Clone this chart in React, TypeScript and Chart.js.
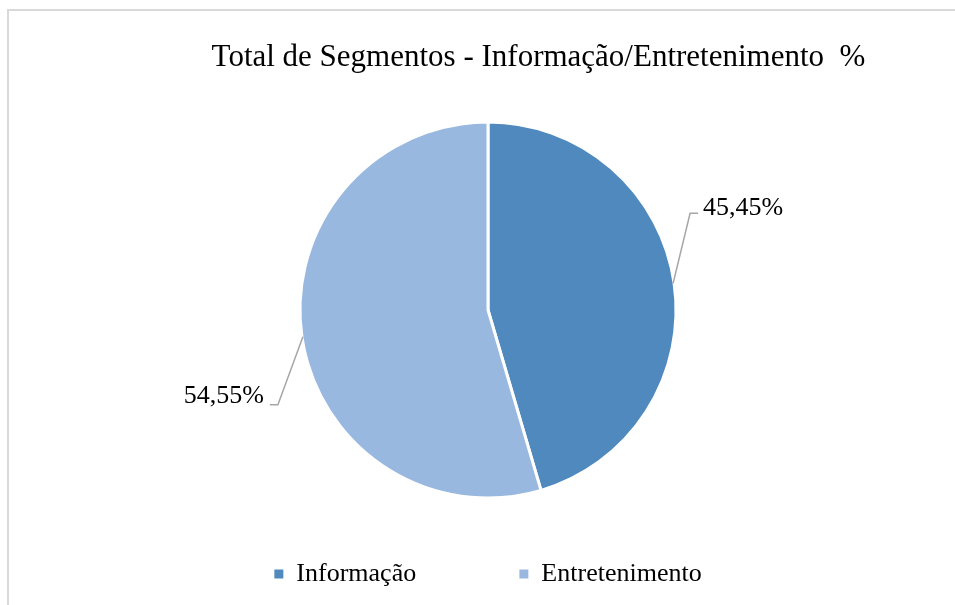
import React, { useEffect, useRef } from "react";
import { Chart, registerables } from "chart.js";

Chart.register(...registerables);

const TITLE = "Total de Segmentos - Informação/Entretenimento  %";
const categories = ["Informação", "Entretenimento"];
const values = [45.45, 54.55];
const valueLabels = ["45,45%", "54,55%"];
const colors = ["#4f89bd", "#98b8df"];

const SERIF = "'Liberation Serif', 'Times New Roman', serif";

const titlePlugin = {
  id: "customTitle",
  afterDraw(chart: any) {
    const ctx = chart.ctx;
    ctx.save();
    ctx.font = `31px ${SERIF}`;
    ctx.fillStyle = "#000";
    ctx.textAlign = "center";
    ctx.textBaseline = "middle";
    ctx.fillText(TITLE, chart.width / 2 + 61, 58);
    ctx.restore();
  },
};

const leaderPlugin = {
  id: "leaderLabels",
  afterDatasetsDraw(chart: any) {
    const ctx = chart.ctx;
    const meta = chart.getDatasetMeta(0);
    const offs = [
      { dx: 17, dy: -70, tail: 8 },
      { dx: -25, dy: 68, tail: -8 },
    ];
    meta.data.forEach((arc: any, i: number) => {
      const { x, y, startAngle, endAngle, outerRadius } = arc.getProps(
        ["x", "y", "startAngle", "endAngle", "outerRadius"],
        true
      );
      const mid = (startAngle + endAngle) / 2;
      const ex = x + Math.cos(mid) * (outerRadius - 1);
      const ey = y + Math.sin(mid) * (outerRadius - 1);
      const o = offs[i];
      const bx = ex + o.dx;
      const by = ey + o.dy;
      const tx = bx + o.tail;
      ctx.save();
      ctx.strokeStyle = "#a6a6a6";
      ctx.lineWidth = 1.5;
      ctx.beginPath();
      ctx.moveTo(ex, ey);
      ctx.lineTo(bx, by);
      ctx.lineTo(tx, by);
      ctx.stroke();
      ctx.font = `26px ${SERIF}`;
      ctx.fillStyle = "#000";
      ctx.textBaseline = "alphabetic";
      if (o.tail > 0) {
        ctx.textAlign = "left";
        ctx.fillText(valueLabels[i], tx + 5, by + 2);
      } else {
        ctx.textAlign = "right";
        ctx.fillText(valueLabels[i], tx - 6, by - 2);
      }
      ctx.restore();
    });
  },
};

export default function App() {
  const ref = useRef<HTMLCanvasElement | null>(null);
  useEffect(() => {
    if (!ref.current) return;
    const chart = new Chart(ref.current, {
      type: "pie",
      data: {
        labels: categories,
        datasets: [
          {
            data: values,
            backgroundColor: colors,
            borderColor: "#ffffff",
            borderWidth: 3,
            borderJoinStyle: "miter",
          } as any,
        ],
      },
      options: {
        animation: false,
        responsive: false,
        devicePixelRatio: 1,
        radius: 188,
        layout: { padding: { top: 79, bottom: 8, left: 21, right: 0 } },
        plugins: {
          title: { display: false },
          tooltip: { enabled: false },
          legend: {
            position: "bottom",
            labels: {
              boxWidth: 9,
              boxHeight: 9,
              padding: 20,
              color: "#000",
              font: { family: SERIF, size: 26 },
              generateLabels(chart: any) {
                return chart.data.labels.map((l: string, i: number) => ({
                  text: i === 0 ? l + "\u2003\u2003\u2003\u2009" : l,
                  fillStyle: colors[i],
                  strokeStyle: colors[i],
                  lineWidth: 0,
                  hidden: false,
                  index: i,
                }));
              },
            },
          },
        },
      } as any,
      plugins: [titlePlugin, leaderPlugin],
    });
    return () => chart.destroy();
  }, []);
  return (
    <div
      style={{
        position: "fixed",
        left: 0,
        top: 0,
        width: 955,
        height: 605,
        overflow: "hidden",
        background: "#fff",
      }}
    >
      <div
        style={{
          position: "absolute",
          left: 7,
          top: 9,
          width: 1100,
          height: 1100,
          border: "2px solid #d9d9d9",
          boxSizing: "border-box",
        }}
      />
      <canvas
        ref={ref}
        width={955}
        height={605}
        style={{ position: "absolute", left: 0, top: 0, width: 955, height: 605 }}
      />
    </div>
  );
}
